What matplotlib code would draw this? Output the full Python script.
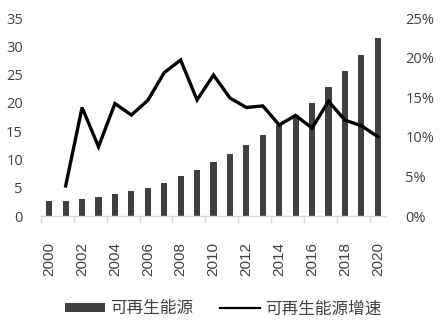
import matplotlib
matplotlib.use("Agg")
import matplotlib.pyplot as plt
from matplotlib.lines import Line2D
from matplotlib.patches import Patch
from matplotlib.ticker import FixedLocator, FuncFormatter

years = list(range(2000, 2021))
capacity = [2.65, 2.65, 3.0, 3.4, 3.9, 4.4, 4.95, 5.9, 7.05, 8.1, 9.5,
            11.0, 12.55, 14.3, 16.1, 17.9, 19.95, 22.8, 25.6, 28.5, 31.5]
growth_years = list(range(2001, 2021))
growth = [3.8, 13.7, 8.75, 14.2, 12.75, 14.6, 18.1, 19.7, 14.65, 17.8,
          14.9, 13.7, 13.9, 11.5, 12.7, 11.1, 14.5, 12.1, 11.4, 10.0]
year_labels = [str(y) for y in range(2000, 2021, 2)]

W, H = 446, 332
fig = plt.figure(figsize=(W / 100, H / 100), dpi=100)
ax = fig.add_axes([41 / W, 1 - 216 / H, (386 - 41) / W, (216 - 18) / H])
ax2 = ax.twinx()

text_col = "#404040"
ax.bar(range(len(years)), capacity, width=0.37, color="#404040", zorder=2)
ax.set_xlim(-0.5, len(years) - 0.5)
ax.set_ylim(0, 35)
ax.set_yticks(range(0, 36, 5))

gx = [years.index(y) for y in growth_years]
ax2.plot(gx, growth, color="black", lw=2.4, solid_joinstyle="miter", zorder=3)
ax2.set_ylim(0, 25)
ax2.set_yticks(range(0, 26, 5))
ax2.yaxis.set_major_formatter(FuncFormatter(lambda v, p: f"{int(v)}%"))

for a in (ax, ax2):
    for s in a.spines.values():
        s.set_visible(False)
    a.tick_params(axis="y", length=0, labelsize=10.5, labelcolor=text_col)
    for lab in a.get_yticklabels():
        lab.set_fontfamily("Open Sans")
ax.tick_params(axis="y", pad=13)
ax2.tick_params(axis="y", pad=14)

ax.spines["bottom"].set_visible(True)
ax.spines["bottom"].set_color("#d9d9d9")
ax.spines["bottom"].set_linewidth(1)

# category labels every other year, boundary ticks between pairs
ax.set_xticks(range(0, len(years), 2))
ax.set_xticklabels(year_labels, rotation=90, fontsize=11, color=text_col,
                   fontfamily="Liberation Sans")
ax.tick_params(axis="x", length=0, pad=19)
ax.xaxis.set_minor_locator(FixedLocator([-0.5 + 2 * i for i in range(11)]))
ax.tick_params(axis="x", which="minor", length=5, color="#d9d9d9", width=1)

handles = [Patch(facecolor="#404040", edgecolor="none"),
           Line2D([0], [0], color="black", lw=1.6)]
leg = fig.legend(handles, ["可再生能源", "可再生能源增速"], loc="center",
                 bbox_to_anchor=(0.5, 1 - 309 / H), ncol=2, frameon=False,
                 prop={"family": ["Noto Sans CJK SC", "DejaVu Sans"], "size": 12},
                 handlelength=2.4, handleheight=0.5, columnspacing=1.6,
                 handletextpad=0.3)
for t in leg.get_texts():
    t.set_color(text_col)

fig.savefig("out.png", dpi=100)
